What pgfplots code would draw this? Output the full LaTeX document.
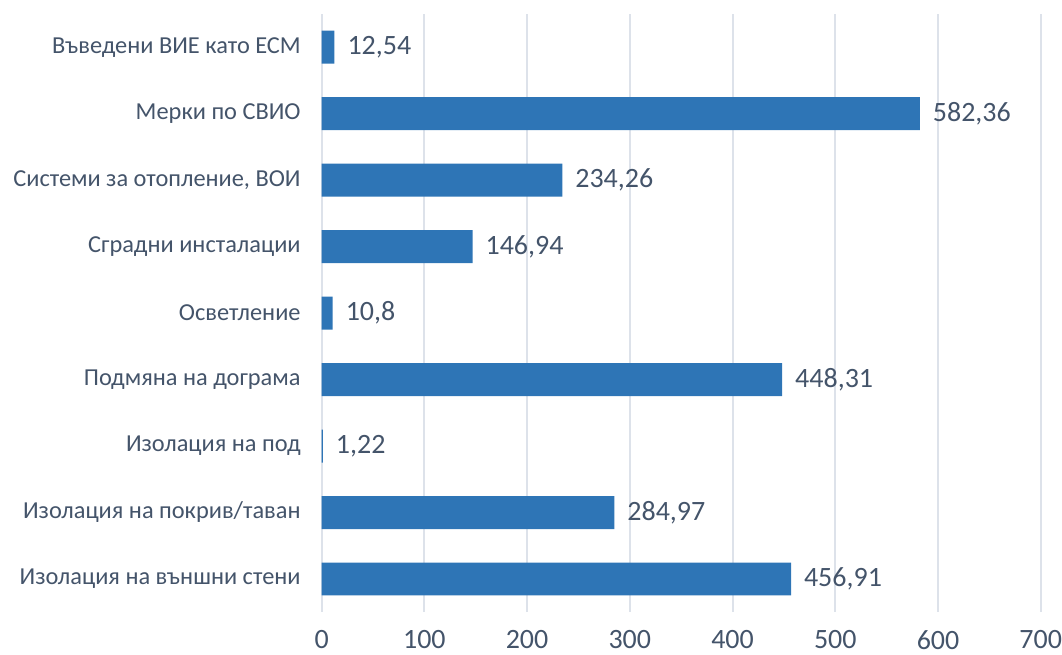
\documentclass[border=0pt]{standalone}
\usepackage{fontspec}
\setmainfont{Carlito}
\usepackage{pgfplots}
\pgfplotsset{compat=1.18}
\definecolor{barblue}{HTML}{2E75B6}
\definecolor{txtgray}{HTML}{44546A}
\definecolor{gridc}{HTML}{DDE2EA}

\begin{document}
\begin{tikzpicture}
\begin{axis}[
  name=ax,
  scale only axis,
  width=360pt, height=299.5pt,
  xbar, bar width=16.5pt,
  xmin=0, xmax=700, ymin=-0.5, ymax=8.5,
  xtick={0,100,...,700},
  ytick={0,...,8},
  yticklabels={Изолация на външни стени, Изолация на покрив/таван,
    Изолация на под, Подмяна на дограма, Осветление,
    Сградни инсталации, {Системи за отопление, ВОИ},
    Мерки по СВИО, Въведени ВИЕ като ЕСМ},
  axis line style={draw=none},
  major tick length=0pt,
  xmajorgrids=true,
  major grid style={draw=gridc, line width=1pt},
  tick label style={text=txtgray},
  yticklabel style={xshift=-7pt, font=\fontsize{12.2pt}{15pt}\selectfont},
  xticklabel style={inner sep=0pt, yshift=-9pt,
    font=\fontsize{14pt}{16pt}\selectfont},
  /pgf/number format/assume math mode=true,
  nodes near coords,
  point meta=x,
  nodes near coords style={text=txtgray, anchor=west, xshift=3pt,
    font=\fontsize{14pt}{16pt}\selectfont,
    /pgf/number format/.cd, use comma, fixed, precision=2},
]
\addplot[fill=barblue, draw=none] coordinates {
  (456.91,0) (284.97,1) (1.22,2) (448.31,3) (10.8,4)
  (146.94,5) (234.26,6) (582.36,7) (12.54,8)
};
\end{axis}
\path ([xshift=-161pt,yshift=-21pt]ax.south west)
  rectangle ([xshift=10pt,yshift=7pt]ax.north east);
\end{tikzpicture}
\end{document}
